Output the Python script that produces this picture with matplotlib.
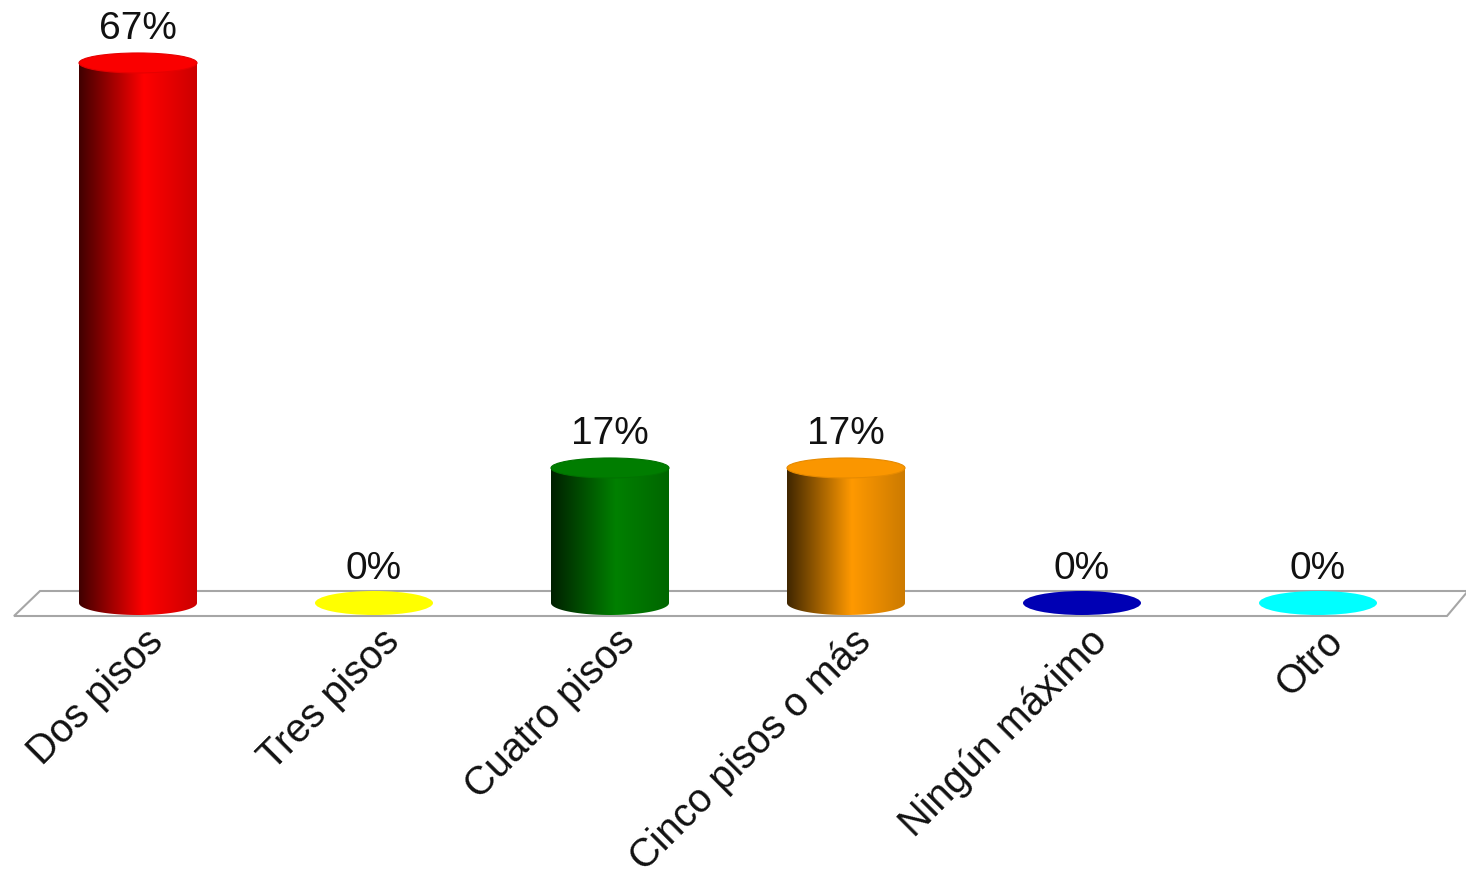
import numpy as np
import matplotlib
matplotlib.use("Agg")
import matplotlib.pyplot as plt
from matplotlib.colors import LinearSegmentedColormap, to_rgb
from matplotlib.patches import Ellipse, Polygon, PathPatch
from matplotlib.path import Path

categories = ["Dos pisos", "Tres pisos", "Cuatro pisos", "Cinco pisos o más", "Ningún máximo", "Otro"]
values = [66.67, 0, 16.67, 16.67, 0, 0]
colors = ["#ff0000", "#ffff00", "#008000", "#ff9900", "#0000b4", "#00ffff"]

plt.rcParams['font.family'] = ['Liberation Sans', 'DejaVu Sans']

W, H, DPI = 1466, 884, 100
fig = plt.figure(figsize=(W / DPI, H / DPI), dpi=DPI)
ax = fig.add_axes([0, 0, 1, 1])
ax.set_axis_off()

# pixel mapping helpers (layout only)
x0_px, step_px = 138, 236
base_px = 603
scale = 8.1  # pixels per percent
xlim = ((0 - x0_px) / step_px, (W - x0_px) / step_px)
ylim = (-(H - base_px) / scale, base_px / scale)

bar_w = 118 / step_px
ell_h = 24 / scale
top_h = 20 / scale

# floor
fy_front, fy_back = (base_px - 616) / scale, (base_px - 591) / scale
floor = Polygon([((14 - x0_px) / step_px, fy_front), ((40 - x0_px) / step_px, fy_back),
                 ((1468 - x0_px) / step_px, fy_back), ((1447 - x0_px) / step_px, fy_front)],
                closed=True, facecolor="white", edgecolor="#a6a6a6", lw=1.5, zorder=1)
ax.add_patch(floor)


def shade(c, f):
    r, g, b = to_rgb(c)
    return (r * f, g * f, b * f)


grad = np.linspace(0, 1, 256).reshape(1, -1)
t = np.linspace(np.pi, 2 * np.pi, 60)

for i, (v, c) in enumerate(zip(values, colors)):
    if v > 0:
        cmap = LinearSegmentedColormap.from_list(
            "g%d" % i, [(0, shade(c, 0.25)), (0.55, shade(c, 1.0)), (1.0, shade(c, 0.8))])
        xl, xr = i - bar_w / 2, i + bar_w / 2
        arc_x = i + (bar_w / 2) * np.cos(t)
        arc_y = (ell_h / 2) * np.sin(t)
        verts = [(xl, v)] + [(xl, 0)] + list(zip(arc_x, arc_y)) + [(xr, 0), (xr, v), (xl, v)]
        path = Path(verts)
        im = ax.imshow(grad, cmap=cmap, extent=(xl, xr, -ell_h / 2, v), aspect='auto',
                       interpolation='bilinear', zorder=2)
        clip = PathPatch(path, transform=ax.transData, facecolor='none', edgecolor='none')
        ax.add_patch(clip)
        im.set_clip_path(clip)
        top = Ellipse((i, v), bar_w, top_h, facecolor=shade(c, 0.98), edgecolor=shade(c, 0.9),
                      lw=0.8, zorder=3)
        ax.add_patch(top)
    else:
        top = Ellipse((i, v), bar_w, ell_h, facecolor=c, edgecolor='none', zorder=3)
        ax.add_patch(top)
    ax.annotate("%.0f%%" % v, xy=(i, v), xytext=(0, 17), textcoords='offset points',
                ha='center', va='baseline', fontsize=28, color='#111111', zorder=4)

for i, lab in enumerate(categories):
    ax.annotate(lab, xy=(i, 0), xytext=(4, -14), textcoords='offset points',
                ha='right', va='top', rotation=45, rotation_mode='anchor',
                fontsize=28.5, color='#111111')

ax.set_xlim(*xlim)
ax.set_ylim(*ylim)

fig.savefig("out.png", dpi=DPI, facecolor="white")
